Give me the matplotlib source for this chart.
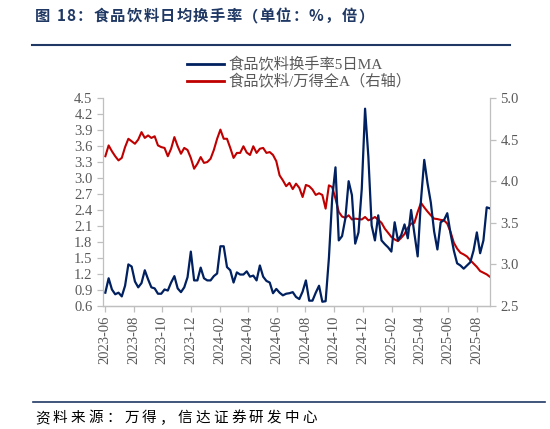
import matplotlib
matplotlib.use("Agg")
import matplotlib.pyplot as plt
import matplotlib.dates as mdates
import pandas as pd
from matplotlib.lines import Line2D

plt.rcParams['font.family'] = ['Liberation Serif', 'Noto Sans CJK SC', 'DejaVu Sans']

title = "图 18：食品饮料日均换手率（单位：%，倍）"
source = "资料来源：万得，信达证券研发中心"
label_turnover = "食品饮料换手率5日MA"
label_ratio = "食品饮料/万得全A（右轴）"

dates = pd.date_range("2023-06-02", periods=118, freq="7D")

turnover = [0.85, 1.12, 0.91, 0.82, 0.85, 0.78, 0.98, 1.38, 1.34, 1.06,
            0.95, 1.03, 1.27, 1.10, 0.95, 0.93, 0.83, 0.83, 0.91, 0.89,
            1.04, 1.16, 0.93, 0.86, 0.95, 1.14, 1.62, 1.08, 1.08, 1.32,
            1.12, 1.08, 1.08, 1.16, 1.21, 1.72, 1.72, 1.33, 1.27, 1.04,
            1.23, 1.19, 1.19, 1.25, 1.15, 1.17, 1.08, 1.36, 1.15, 1.07,
            1.04, 0.84, 0.92, 0.85, 0.80, 0.83, 0.84, 0.86, 0.77, 0.73,
            0.87, 1.08, 0.70, 0.70, 0.85, 0.98, 0.68, 0.69, 1.50, 2.62,
            3.20, 1.83, 1.91, 2.24, 2.94, 2.68, 1.77, 1.98, 2.80, 4.30,
            3.40, 2.11, 1.83, 2.30, 1.83, 1.76, 1.70, 1.62, 2.17, 1.83,
            1.93, 2.13, 1.87, 2.40, 1.96, 1.53, 2.58, 3.34, 2.90, 2.54,
            2.00, 1.66, 2.17, 2.21, 2.34, 1.96, 1.64, 1.40, 1.36, 1.30,
            1.36, 1.42, 1.64, 1.98, 1.59, 1.83, 2.45, 2.43]

ratio = [4.30, 4.43, 4.36, 4.30, 4.25, 4.28, 4.41, 4.51, 4.48, 4.45,
         4.50, 4.59, 4.52, 4.55, 4.52, 4.54, 4.43, 4.41, 4.40, 4.30,
         4.39, 4.53, 4.42, 4.33, 4.40, 4.375, 4.28, 4.15, 4.21, 4.29,
         4.22, 4.23, 4.27, 4.375, 4.51, 4.62, 4.51, 4.51, 4.40, 4.28,
         4.34, 4.34, 4.42, 4.345, 4.315, 4.42, 4.34, 4.39, 4.40, 4.34,
         4.35, 4.315, 4.24, 4.07, 4.01, 3.94, 3.98, 3.905, 3.97, 3.92,
         3.81, 3.955, 3.94, 3.90, 3.835, 3.855, 3.835, 3.67, 3.95, 3.93,
         3.79, 3.63, 3.575, 3.56, 3.59, 3.54, 3.55, 3.545, 3.54, 3.57,
         3.53, 3.545, 3.57, 3.535, 3.50, 3.43, 3.38, 3.33, 3.30, 3.28,
         3.32, 3.365, 3.44, 3.49, 3.50, 3.63, 3.74, 3.685, 3.635, 3.59,
         3.55, 3.545, 3.535, 3.53, 3.49, 3.39, 3.26, 3.19, 3.14, 3.12,
         3.095, 3.05, 3.01, 2.97, 2.92, 2.90, 2.88, 2.85]

left_ticks = [0.6, 0.9, 1.2, 1.5, 1.8, 2.1, 2.4, 2.7, 3.0, 3.3, 3.6, 3.9, 4.2, 4.5]
right_ticks = [2.5, 3.0, 3.5, 4.0, 4.5, 5.0]

navy = "#002060"
red = "#C00000"
gray = "#595959"
spine_c = "#BFBFBF"
title_c = "#1F3864"

W, H = 550, 429
fig = plt.figure(figsize=(W / 100, H / 100), dpi=100)
ax = fig.add_axes([103/W, 1-306/H, (490-103)/W, (306-98)/H])
ax2 = ax.twinx()

ax.plot(dates, turnover, color=navy, lw=1.6, zorder=3)
ax2.plot(dates, ratio, color=red, lw=1.5, zorder=2)
ax.set_zorder(ax2.get_zorder() + 1)
ax.patch.set_visible(False)

ax.set_ylim(0.6, 4.5)
ax.set_yticks(left_ticks)
ax.set_yticklabels([f"{v:.1f}" for v in left_ticks])
ax2.set_ylim(2.5, 5.0)
ax2.set_yticks(right_ticks)
ax2.set_yticklabels([f"{v:.1f}" for v in right_ticks])

ax.set_xlim(pd.Timestamp("2023-05-28"), pd.Timestamp("2025-08-29"))
ax.xaxis.set_major_locator(mdates.MonthLocator(bymonth=[2, 4, 6, 8, 10, 12]))
ax.xaxis.set_major_formatter(mdates.DateFormatter("%Y-%m"))

for a in (ax, ax2):
    for s in a.spines.values():
        s.set_color(spine_c)
        s.set_linewidth(0.9)
    a.spines['top'].set_visible(False)
    a.tick_params(colors=gray, labelsize=10.5, length=4, width=0.9, color=spine_c)
ax.tick_params(axis='x', labelrotation=90, pad=3)
ax2.spines['left'].set_visible(False)
ax.spines['right'].set_visible(False)

# legend
handles = [Line2D([0], [0], color=navy, lw=2), Line2D([0], [0], color=red, lw=2)]
leg = fig.legend(handles, [label_turnover, label_ratio], loc='upper left',
                 bbox_to_anchor=(181/W, 1-51/H), frameon=False,
                 fontsize=11, handlelength=2.4, handletextpad=0.3,
                 labelspacing=0.1, borderaxespad=0)
for t in leg.get_texts():
    t.set_color(gray)

renderer = fig.canvas.get_renderer()


def spaced_text(x_px, y_px, s, spacing_px, **kw):
    x = x_px
    for ch in s:
        t = fig.text(x / W, 1 - y_px / H, ch, va='center', ha='left', **kw)
        bb = t.get_window_extent(renderer=renderer)
        x += bb.width + spacing_px


spaced_text(35, 16, title, 1.3, fontsize=11, fontweight='bold', color=title_c,
            family=['Noto Sans CJK SC', 'DejaVu Sans'])
fig.add_artist(Line2D([32/W, 510/W], [1-45/H, 1-45/H], color=title_c, lw=1.5))
fig.add_artist(Line2D([33/W, 545/W], [1-402/H, 1-402/H], color=title_c, lw=1.2))
spaced_text(35, 418, source, 3.2, fontsize=10.5, color="black",
            family=['Noto Sans CJK SC', 'DejaVu Sans'])

fig.savefig("out.png", dpi=100)
